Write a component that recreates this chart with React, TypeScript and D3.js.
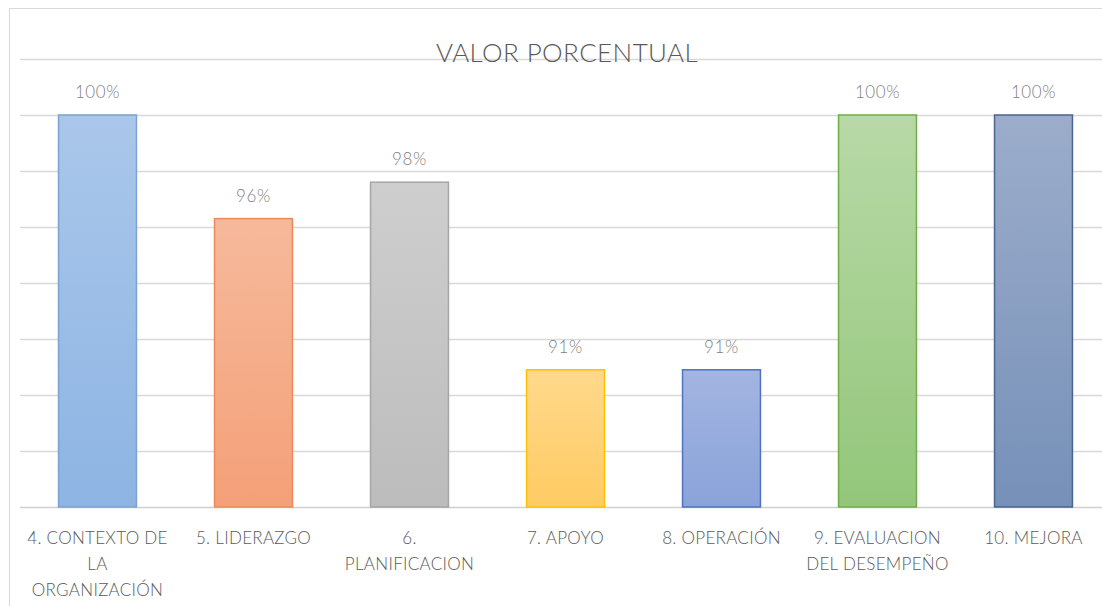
import React, { useEffect, useRef } from 'react';
import * as d3 from 'd3';

const categories = [
  '4. CONTEXTO DE LA ORGANIZACIÓN',
  '5. LIDERAZGO',
  '6. PLANIFICACION',
  '7. APOYO',
  '8. OPERACIÓN',
  '9. EVALUACION DEL DESEMPEÑO',
  '10. MEJORA',
];
const values = [100, 96.3, 97.6, 90.9, 90.9, 100, 100];
const valueLabels = ['100%', '96%', '98%', '91%', '91%', '100%', '100%'];
const yTicks = [86, 88, 90, 92, 94, 96, 98, 100, 102];

// top / bottom of gradient, outline
const fillsTop = ['#aac7ea', '#f6b99b', '#cecece', '#ffd98c', '#a3b5e1', '#b8d9a7', '#9cadcb'];
const fillsBottom = ['#8db4e3', '#f4a078', '#bcbcbc', '#ffcb63', '#8aa3da', '#93c67a', '#7690b8'];
const strokes = ['#7ca2d2', '#ec8b59', '#a5a5a5', '#ffc000', '#4f73c0', '#70ad47', '#4b6591'];

const W = 1102;
const H = 606;
const FONT = 'Lato, "Open Sans", sans-serif';

function App() {
  const ref = useRef<SVGSVGElement>(null);

  useEffect(() => {
    const svg = d3.select(ref.current);
    svg.selectAll('*').remove();

    const left = 19.5;
    const step = 156;
    const x = d3
      .scaleBand<string>()
      .domain(categories)
      .range([left, left + step * categories.length])
      .paddingInner(0.494)
      .paddingOuter(0.247);
    const y = d3.scaleLinear().domain([86, 102]).range([507, 59]);

    // chart frame
    svg
      .append('rect')
      .attr('x', 9.5)
      .attr('y', 8.5)
      .attr('width', W + 20)
      .attr('height', H + 20)
      .attr('fill', '#fff')
      .attr('stroke', '#d9d9d9');

    const defs = svg.append('defs');
    categories.forEach((c, i) => {
      const g = defs
        .append('linearGradient')
        .attr('id', 'grad' + i)
        .attr('x1', 0)
        .attr('y1', 0)
        .attr('x2', 0)
        .attr('y2', 1);
      g.append('stop').attr('offset', '0%').attr('stop-color', fillsTop[i]);
      g.append('stop').attr('offset', '100%').attr('stop-color', fillsBottom[i]);
    });

    // gridlines
    svg
      .append('g')
      .selectAll('line')
      .data(yTicks)
      .enter()
      .append('line')
      .attr('x1', 20)
      .attr('x2', W)
      .attr('y1', (d) => Math.round(y(d)) + 0.5)
      .attr('y2', (d) => Math.round(y(d)) + 0.5)
      .attr('stroke', (d) => (d === 86 ? '#d0d0d0' : '#d9d9d9'))
      .attr('stroke-width', 1.3);

    // title
    svg
      .append('text')
      .attr('x', 567)
      .attr('y', 62)
      .attr('text-anchor', 'middle')
      .style('font-family', FONT)
      .style('font-weight', 300)
      .style('font-size', '26px')
      .style('letter-spacing', '0.4px')
      .style('fill', '#595959')
      .text('VALOR PORCENTUAL');

    // bars
    svg
      .append('g')
      .selectAll('rect')
      .data(values)
      .enter()
      .append('rect')
      .attr('x', (d, i) => x(categories[i])! + 0.5)
      .attr('y', (d) => y(d))
      .attr('width', x.bandwidth() - 1)
      .attr('height', (d) => y(86) - y(d))
      .attr('fill', (d, i) => `url(#grad${i})`)
      .attr('stroke', (d, i) => strokes[i])
      .attr('stroke-width', 1.5);

    // data labels
    svg
      .append('g')
      .selectAll('text')
      .data(values)
      .enter()
      .append('text')
      .attr('x', (d, i) => x(categories[i])! + x.bandwidth() / 2)
      .attr('y', (d) => y(d) - 17)
      .attr('text-anchor', 'middle')
      .style('font-family', FONT)
      .style('font-weight', 300)
      .style('font-size', '17px')
      .style('letter-spacing', '0.6px')
      .style('fill', '#7f7f7f')
      .text((d, i) => valueLabels[i]);

    // category labels, wrapped to the band
    const maxW = 144;
    const labels = svg
      .append('g')
      .selectAll('text')
      .data(categories)
      .enter()
      .append('text')
      .attr('text-anchor', 'middle')
      .style('font-family', FONT)
      .style('font-weight', 300)
      .style('font-size', '17px')
      .style('letter-spacing', '0.3px')
      .style('fill', '#595959');

    labels.each(function (c) {
      const t = d3.select(this);
      const cx = x(c)! + x.bandwidth() / 2;
      const words = c.split(' ');
      const lines: string[] = [];
      let cur = '';
      const probe = t.append('tspan');
      words.forEach((w) => {
        const test = cur ? cur + ' ' + w : w;
        probe.text(test);
        if ((probe.node() as SVGTSpanElement).getComputedTextLength() > maxW && cur) {
          lines.push(cur);
          cur = w;
        } else {
          cur = test;
        }
      });
      lines.push(cur);
      probe.remove();
      lines.forEach((l, k) => {
        t.append('tspan')
          .attr('x', cx)
          .attr('y', 544 + k * 26)
          .text(l);
      });
    });
  }, []);

  return (
    <svg
      ref={ref}
      width={W}
      height={H}
      style={{ position: 'absolute', left: 0, top: 0, background: '#fff' }}
    />
  );
}

export default App;
